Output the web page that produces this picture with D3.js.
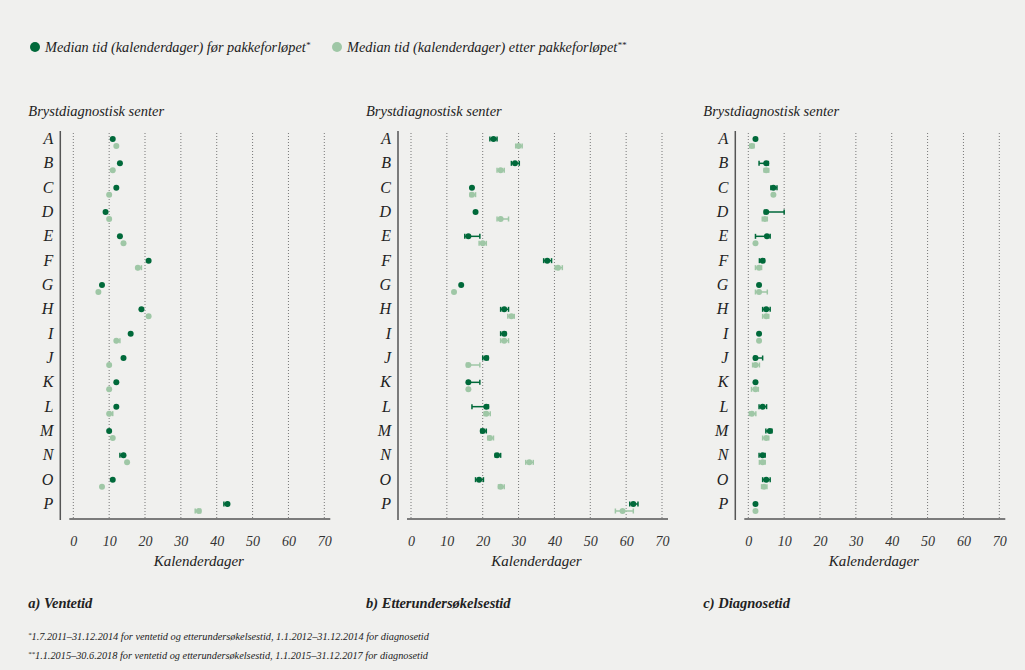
<!DOCTYPE html>
<html>
<head>
<meta charset="utf-8">
<script src="https://cdn.jsdelivr.net/npm/d3@7"></script>
<style>
  body { margin: 0; background: #f0f0ee; }
  svg { display: block; font-family: 'Liberation Serif', serif; font-style: italic; }
</style>
</head>
<body>
<script>
// senters, A-P
const letters = ['A','B','C','D','E','F','G','H','I','J','K','L','M','N','O','P']
const ticks = [0, 10, 20, 30, 40, 50, 60, 70]

// a) Ventetid
const ventetidFor = [11, 13, 12, 9, 13, 21, 8, 19, 16, 14, 12, 12, 10, 14, 11, 43]
const ventetidForCI = [null, null, null, null, null, null, null, null, null, null, null, null, null, [13, 14], null, [42, 43]]
const ventetidEtter = [12, 11, 10, 10, 14, 18, 7, 21, 12, 10, 10, 10, 11, 15, 8, 35]
const ventetidEtterCI = [null, null, null, null, null, [18, 19], null, null, [12, 13], null, null, [10, 11], null, null, null, [34, 35.5]]

// b) Etterundersøkelsestid
const etterFor = [23, 29, 17, 18, 16, 38, 14, 26, 26, 21, 16, 21, 20, 24, 19, 62]
const etterForCI = [[22, 24], [28, 30.2], null, null, [15, 19.2], [37, 39.2], null, [25, 27.2], [25, 26.4], [20, 21.5], [16, 19.2], [17, 21.6], [19.5, 21], [23.5, 25], [18, 20.2], [61, 63.3]]
const etterEtter = [30, 25, 17, 25, 20, 41, 12, 28, 26, 16, 16, 21, 22, 33, 25, 59]
const etterEtterCI = [[29.2, 31], [24, 26], [16.5, 18], [24, 27.2], [19, 21], [40.2, 42.2], null, [27, 28.8], [25, 27.2], [15.5, 19.2], null, [20.4, 22.1], [21.4, 23], [32, 34.1], [24.4, 26], [57, 62]]

// c) Diagnosetid
const diagFor = [2, 5, 7, 5, 5.2, 4, 3, 5, 3, 2, 2, 4, 6, 4, 5, 2]
const diagForCI = [null, [3, 5.6], [6.3, 8], [4.5, 10], [2, 6.1], [3.1, 4.5], null, [4, 6.1], null, [1.7, 4], null, [3, 5.1], [4.9, 6.6], [3, 4.7], [4, 6.1], null]
const diagEtter = [1, 5, 7, 4.6, 2, 3, 3, 5, 3, 2, 2, 1, 5, 4, 4.4, 2]
const diagEtterCI = [[0.4, 1.6], [4.4, 5.7], null, [3.9, 5.3], null, [2, 3.7], [2, 5.3], [4, 5.7], null, [1.2, 3.1], [0.9, 2.8], [0.3, 2.1], [4, 5.7], [3.1, 4.7], [3.7, 5.2], null]

const colFor = '#00693a'
const colEtter = '#9fc7a6'

const svg = d3.select('body')
  .append('svg')
  .attr('width', 1025)
  .attr('height', 670)

svg.append('rect').attr('width', 1025).attr('height', 670).attr('fill', '#f0f0ee')

// legend
const legend = [
  {x: 35, label: 'Median tid (kalenderdager) før pakkeforløpet', star: '*', color: colFor},
  {x: 337, label: 'Median tid (kalenderdager) etter pakkeforløpet', star: '**', color: colEtter}
]
const lg = svg.selectAll('g.legend').data(legend).join('g')
  .attr('class', 'legend')
  .attr('transform', (d) => `translate(${d.x},47)`)
lg.append('circle').attr('r', 5).attr('fill', (d) => d.color)
const lt = lg.append('text').attr('x', 10).attr('y', 5).attr('font-size', 14.3).attr('fill', '#222')
lt.append('tspan').text((d) => d.label)
lt.append('tspan').attr('font-size', 9).attr('dy', -4).text((d) => d.star)

const yscale = d3.scalePoint().domain(letters).range([142.5, 507.5])

function panel(ox, before, beforeCI, after, afterCI, title) {
  const g = svg.append('g')
  const xscale = d3.scaleLinear().domain([0, 70]).range([ox, ox + 251])

  g.append('text')
    .attr('x', ox - 45).attr('y', 116)
    .attr('font-size', 14.5).attr('fill', '#222')
    .text('Brystdiagnostisk senter')

  // dotted gridlines
  g.selectAll('line.grid').data(ticks).join('line')
    .attr('class', 'grid')
    .attr('x1', (d) => xscale(d)).attr('x2', (d) => xscale(d))
    .attr('y1', 133).attr('y2', 519)
    .attr('stroke', '#777').attr('stroke-width', 1)
    .attr('stroke-dasharray', '1,2')

  // axes lines
  g.append('line')
    .attr('x1', ox - 13).attr('x2', ox - 13).attr('y1', 131).attr('y2', 520)
    .attr('stroke', '#555').attr('stroke-width', 1.5)
  g.append('line')
    .attr('x1', ox - 4).attr('x2', ox + 257).attr('y1', 519).attr('y2', 519)
    .attr('stroke', '#555').attr('stroke-width', 1.5)

  const xaxis = d3.axisBottom(xscale).tickValues(ticks).tickSize(0).tickPadding(17)
  const gx = g.append('g').attr('transform', 'translate(0,519)').call(xaxis)
  gx.select('.domain').remove()
  gx.selectAll('text')
    .attr('font-size', 14).attr('fill', '#333')
    .attr('font-family', 'Liberation Serif').attr('font-style', 'italic')

  g.append('text')
    .attr('x', (xscale(0) + xscale(70)) / 2).attr('y', 566)
    .attr('text-anchor', 'middle').attr('font-size', 15).attr('fill', '#222')
    .text('Kalenderdager')

  // row letters
  g.selectAll('text.row').data(letters).join('text')
    .attr('class', 'row')
    .attr('x', ox - 20).attr('y', (d) => yscale(d) + 1.5)
    .attr('text-anchor', 'end').attr('font-size', 16).attr('fill', '#222')
    .text((d) => d)

  const series = [
    {vals: before, ci: beforeCI, dy: -3.5, color: colFor},
    {vals: after, ci: afterCI, dy: 3.5, color: colEtter}
  ]
  series.forEach((s) => {
    const rows = letters.map((l, i) => ({l, v: s.vals[i], ci: s.ci[i], y: yscale(l) + s.dy}))
    const withCI = rows.filter((d) => d.ci)
    g.selectAll(null).data(withCI).join('line')
      .attr('x1', (d) => xscale(d.ci[0])).attr('x2', (d) => xscale(d.ci[1]))
      .attr('y1', (d) => d.y).attr('y2', (d) => d.y)
      .attr('stroke', s.color).attr('stroke-width', 1.5)
    g.selectAll(null).data(withCI.flatMap((d) => [{x: d.ci[0], y: d.y}, {x: d.ci[1], y: d.y}])).join('line')
      .attr('x1', (d) => xscale(d.x)).attr('x2', (d) => xscale(d.x))
      .attr('y1', (d) => d.y - 2.5).attr('y2', (d) => d.y + 2.5)
      .attr('stroke', s.color).attr('stroke-width', 1.5)
    g.selectAll(null).data(rows).join('circle')
      .attr('cx', (d) => xscale(d.v)).attr('cy', (d) => d.y)
      .attr('r', 3).attr('fill', s.color)
  })

  g.append('text')
    .attr('x', ox - 45).attr('y', 608)
    .attr('font-size', 14.5).attr('font-weight', 'bold').attr('fill', '#222')
    .text(title)
}

panel(73.3, ventetidFor, ventetidForCI, ventetidEtter, ventetidEtterCI, 'a) Ventetid')
panel(411, etterFor, etterForCI, etterEtter, etterEtterCI, 'b) Etterundersøkelsestid')
panel(748.3, diagFor, diagForCI, diagEtter, diagEtterCI, 'c) Diagnosetid')

// footnotes
const notes = [
  {star: '*', text: '1.7.2011–31.12.2014 for ventetid og etterundersøkelsestid, 1.1.2012–31.12.2014 for diagnosetid'},
  {star: '**', text: '1.1.2015–30.6.2018 for ventetid og etterundersøkelsestid, 1.1.2015–31.12.2017 for diagnosetid'}
]
const nt = svg.selectAll('text.note').data(notes).join('text')
  .attr('class', 'note')
  .attr('x', 28).attr('y', (d, i) => 640 + i * 19)
  .attr('font-size', 10.3).attr('fill', '#222')
nt.append('tspan').attr('font-size', 7).attr('dy', -3).text((d) => d.star)
nt.append('tspan').attr('dy', 3).text((d) => d.text)
</script>
</body>
</html>
